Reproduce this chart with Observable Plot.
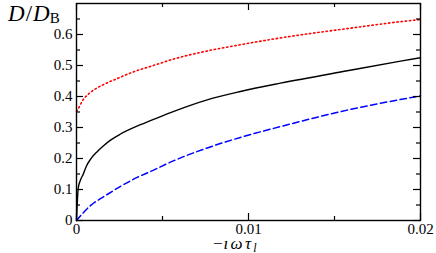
<!DOCTYPE html>
<html><head><meta charset="utf-8">
<script src="https://cdn.jsdelivr.net/npm/d3@7"></script>
<script src="https://cdn.jsdelivr.net/npm/@observablehq/plot@0.6"></script>
<style>
body{margin:0;background:#fff}
svg text, svg tspan { font-family: "Liberation Serif", "Times New Roman", "DejaVu Serif", serif !important; }
</style>
</head><body><div id="chart"></div>
<script>
// Series
const blackX = [0, 0.0001, 0.0002, 0.00039, 0.00058, 0.00081, 0.0012, 0.00159, 0.002, 0.00256, 0.00372, 0.0043, 0.00566, 0.0076, 0.00953, 0.01186, 0.01574, 0.01884, 0.02];
const blackY = [0, 0.104, 0.126, 0.149, 0.176, 0.197, 0.222, 0.242, 0.260, 0.279, 0.309, 0.322, 0.352, 0.389, 0.416, 0.443, 0.483, 0.514, 0.525];

const blueX = [0, 0.00081, 0.00159, 0.00256, 0.00353, 0.0043, 0.00566, 0.0076, 0.00953, 0.01186, 0.01574, 0.02];
const blueY = [0, 0.048, 0.077, 0.110, 0.139, 0.158, 0.193, 0.234, 0.268, 0.303, 0.356, 0.402];

const redX = [0, 0.0001, 0.00019, 0.00039, 0.00068, 0.00106, 0.00155, 0.00237, 0.00333, 0.0043, 0.00566, 0.0076, 0.00953, 0.01186, 0.01574, 0.0198, 0.02];
const redY = [0.352, 0.360, 0.370, 0.390, 0.407, 0.423, 0.438, 0.458, 0.480, 0.497, 0.521, 0.547, 0.567, 0.589, 0.619, 0.647, 0.648];

const xMajor = [0, 0.01, 0.02];
const xMinor = [0.005, 0.015];
const xTickLabels = ["0", "0.01", "0.02"];
const yMajor = [0, 0.1, 0.2, 0.3, 0.4, 0.5, 0.6];
const yMinor = [0.05, 0.15, 0.25, 0.35, 0.45, 0.55, 0.65];
const yTickLabels = ["0", "0.1", "0.2", "0.3", "0.4", "0.5", "0.6"];

const W = 436, H = 253, mL = 76, mR = 16, mT = 3, mB = 33;
const pw = W - mL - mR, ph = H - mT - mB;
const toRows = (xs, ys) => xs.map((x, i) => ({x, y: ys[i]}));
const black = toRows(blackX, blackY);
const blue = toRows(blueX, blueY);
const red = toRows(redX, redY);
const id = d => d;
const SERIF = "Liberation Serif, Times New Roman, DejaVu Serif, serif";

const plot = Plot.plot({
  width: W, height: H,
  marginLeft: mL, marginRight: mR, marginTop: mT, marginBottom: mB,
  x: {domain: [0, 0.02], axis: null},
  y: {domain: [0, 0.7], axis: null},
  style: {fontFamily: SERIF, fontSize: "15px", background: "white", color: "black"},
  marks: [
    Plot.line(red, {x: "x", y: "y", stroke: "#ff0000", strokeWidth: 1.6, strokeDasharray: "1.4 2.8", curve: "monotone-x"}),
    Plot.line(black, {x: "x", y: "y", stroke: "#000000", strokeWidth: 1.4, curve: "monotone-x"}),
    Plot.line(blue, {x: "x", y: "y", stroke: "#0000ff", strokeWidth: 1.5, strokeDasharray: "6.5 3.5", curve: "monotone-x"}),
    Plot.tickY(yMajor, {y: id, insetRight: pw - 7, stroke: "black", strokeWidth: 1.2}),
    Plot.tickY(yMinor, {y: id, insetRight: pw - 4, stroke: "black", strokeWidth: 1.2}),
    Plot.tickY(yMajor, {y: id, insetLeft: pw - 7, stroke: "black", strokeWidth: 1.2}),
    Plot.tickY(yMinor, {y: id, insetLeft: pw - 4, stroke: "black", strokeWidth: 1.2}),
    Plot.tickX(xMajor, {x: id, insetTop: ph - 7, stroke: "black", strokeWidth: 1.2}),
    Plot.tickX(xMinor, {x: id, insetTop: ph - 4, stroke: "black", strokeWidth: 1.2}),
    Plot.tickX(xMajor, {x: id, insetBottom: ph - 7, stroke: "black", strokeWidth: 1.2}),
    Plot.tickX(xMinor, {x: id, insetBottom: ph - 4, stroke: "black", strokeWidth: 1.2}),
    Plot.frame({stroke: "black", strokeWidth: 1.4}),
    Plot.axisY(yMajor, {anchor: "left", tickSize: 0, tickPadding: 4, label: null, fontSize: 15,
      tickFormat: d => yTickLabels[yMajor.indexOf(d)]}),
    Plot.axisX(xMajor, {anchor: "bottom", tickSize: 0, tickPadding: 3, label: null, fontSize: 15,
      tickFormat: d => xTickLabels[xMajor.indexOf(d)]})
  ]
});
document.getElementById("chart").appendChild(plot);

const svg = d3.select(plot);
const yl = svg.append("text")
  .attr("x", 8).attr("y", 20.5)
  .attr("text-anchor", "start")
  .attr("font-size", 23).attr("fill", "black");
yl.append("tspan").attr("font-style", "italic").text("D");
yl.append("tspan").attr("dx", 1).text("/");
yl.append("tspan").attr("font-style", "italic").attr("dx", 1).text("D");
yl.append("tspan").attr("font-size", 15).attr("dy", 2).text("B");

const xl = svg.append("text")
  .attr("x", 213).attr("y", 249)
  .attr("text-anchor", "start")
  .attr("font-size", 17).attr("fill", "black");
xl.append("tspan").text("\u2212");
xl.append("tspan").attr("font-style", "italic").attr("dx", 1).attr("letter-spacing", 2.3).text("\u0131\u03c9\u03c4");
xl.append("tspan").attr("font-style", "italic").attr("font-size", 12).attr("dy", 2.5).text("l");
</script>
</body></html>
